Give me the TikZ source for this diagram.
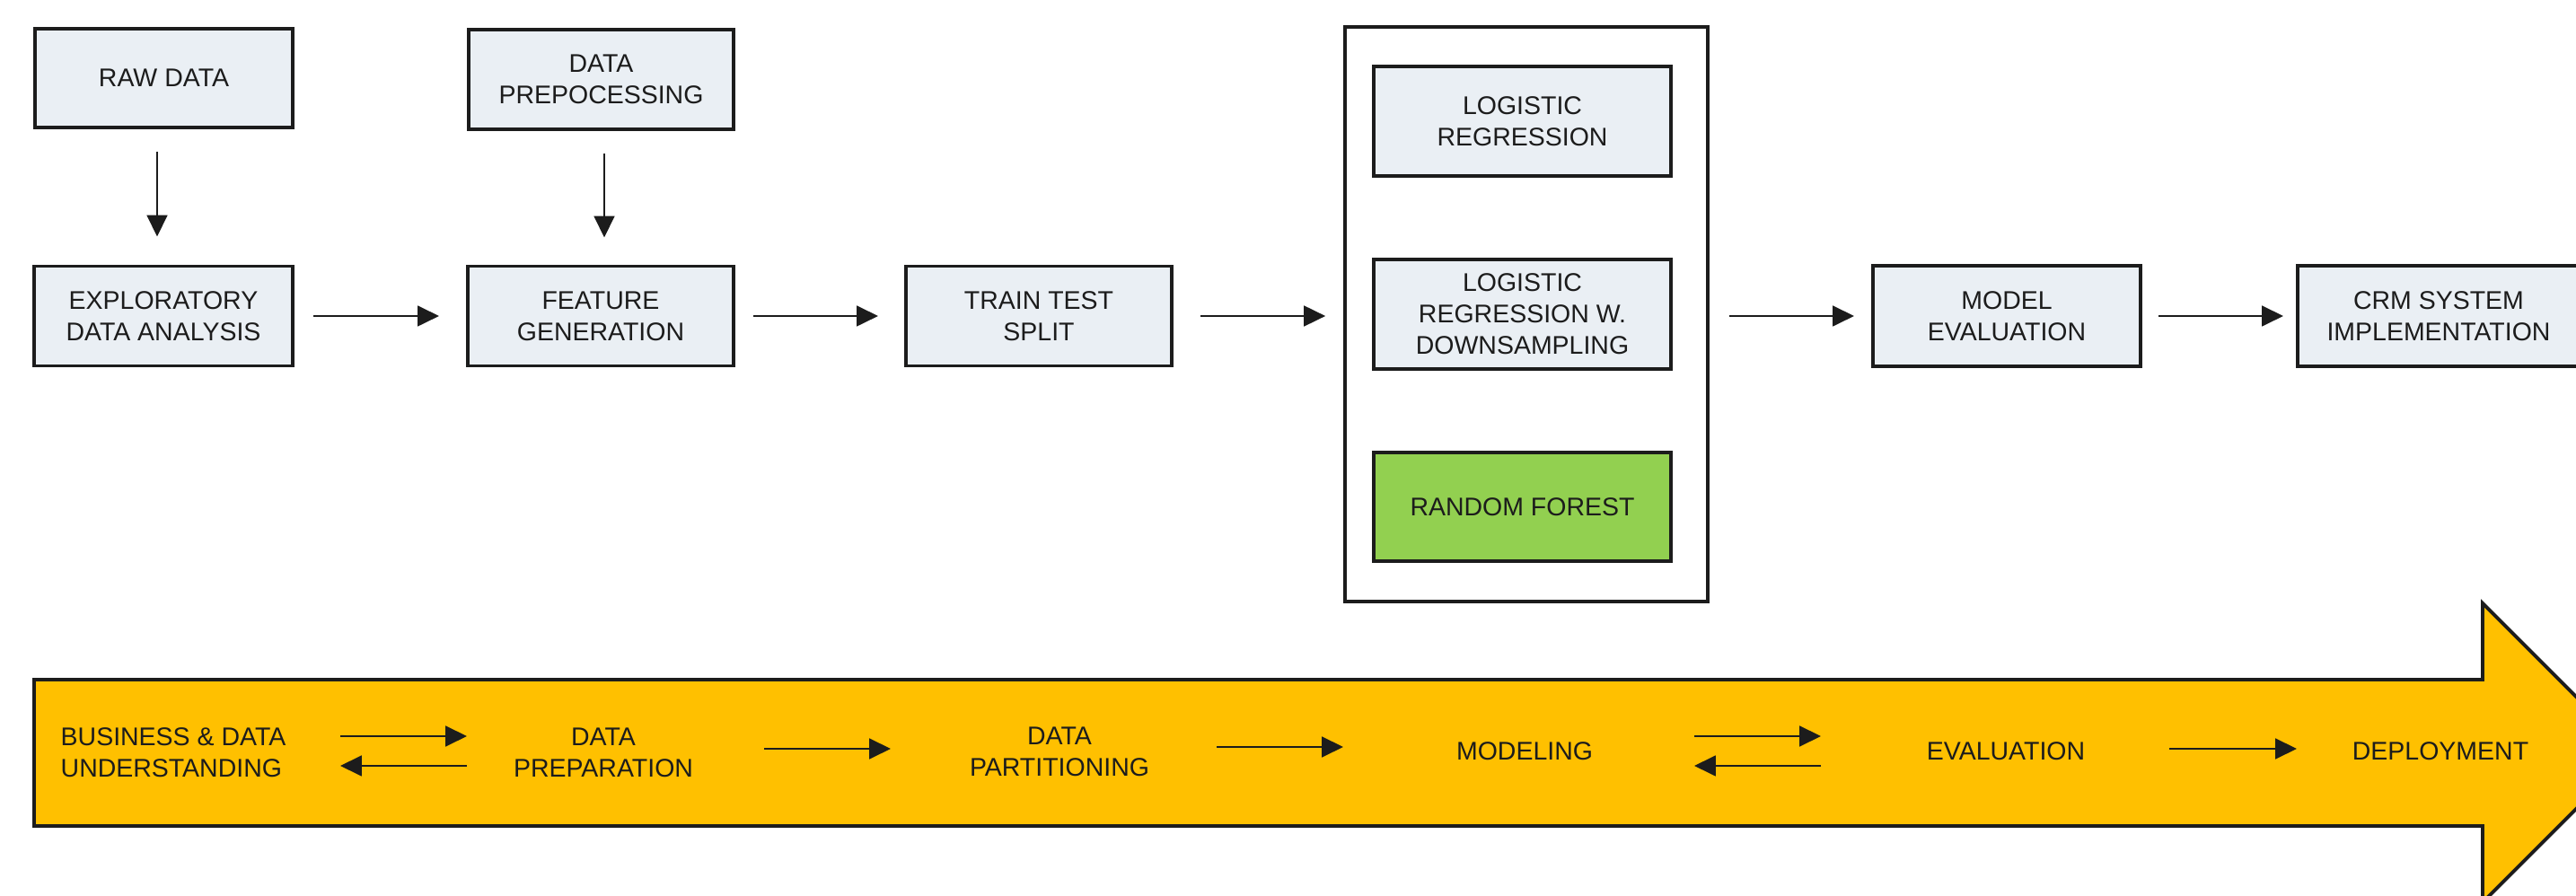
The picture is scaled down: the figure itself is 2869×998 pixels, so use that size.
\documentclass[tikz,border=0pt]{standalone}
\usepackage{fontspec}
\setmainfont{Liberation Sans}
\usetikzlibrary{arrows.meta}
\definecolor{boxfill}{RGB}{234,239,244}
\definecolor{rfgreen}{RGB}{146,208,80}
\definecolor{bandorange}{RGB}{255,192,0}
\definecolor{inkgrey}{RGB}{28,28,28}
\tikzset{
  box/.style={draw=inkgrey, line width=1.1pt, fill=boxfill, align=center, inner sep=0pt},
  greenbox/.style={box, fill=rfgreen},
  groupbox/.style={draw=inkgrey, line width=1pt, fill=white, inner sep=0pt},
  conn/.style={draw=inkgrey, line width=0.6pt, -{Triangle[length=6.8pt,width=6.5pt]}},
  lbl/.style={align=center, inner sep=0pt},
  band/.style={draw=inkgrey, line width=1.1pt, fill=bandorange, line join=miter}
}
\begin{document}
\begin{tikzpicture}[x=0.01cm, y=-0.01cm, font=\fontsize{8.1pt}{10pt}\selectfont, text=inkgrey]
\useasboundingbox (0,0) rectangle (2869,998);
\clip (0,0) rectangle (2869,998);

% top row boxes
\node[box, minimum width=2.87cm, minimum height=1.10cm] (raw)  at (182.5,87)  {RAW DATA};
\node[box, minimum width=2.95cm, minimum height=1.11cm] (prep) at (669.5,88.5) {DATA\\PREPOCESSING};
\node[box, minimum width=2.88cm, minimum height=1.11cm] (eda)  at (182,352)   {EXPLORATORY\\DATA ANALYSIS};
\node[box, minimum width=2.96cm, minimum height=1.11cm] (feat) at (669,352)   {FEATURE\\GENERATION};
\node[box, minimum width=2.96cm, minimum height=1.11cm] (tts)  at (1157,352)  {TRAIN TEST\\SPLIT};

% model group
\node[groupbox, minimum width=4.04cm, minimum height=6.40cm] (grp) at (1700,350) {};
\node[box, minimum width=3.31cm, minimum height=1.22cm] (lr)  at (1695.5,135) {LOGISTIC\\REGRESSION};
\node[box, minimum width=3.31cm, minimum height=1.22cm] (lrw) at (1695.5,350) {LOGISTIC\\REGRESSION W.\\DOWNSAMPLING};
\node[greenbox, minimum width=3.31cm, minimum height=1.21cm] (rf) at (1695.5,564.5) {RANDOM FOREST};

\node[box, minimum width=2.98cm, minimum height=1.12cm] (me)  at (2235,352) {MODEL\\EVALUATION};
\node[box, minimum width=3.14cm, minimum height=1.12cm] (crm) at (2716,352) {CRM SYSTEM\\IMPLEMENTATION};

% top connectors
\draw[conn] ([shift={(-7.5,25)}]raw.south) -- ([shift={(-7,-31)}]eda.north);
\draw[conn] ([shift={(3.5,25)}]prep.south) -- ([shift={(4,-30)}]feat.north);
\draw[conn] ([xshift=0.21cm]eda.east) -- ([xshift=-0.30cm]feat.west);
\draw[conn] ([xshift=0.20cm]feat.east) -- ([xshift=-0.29cm]tts.west);
\draw[conn] ([xshift=0.30cm]tts.east) -- ([shift={(-20,2)}]grp.west);
\draw[conn] ([shift={(22,2)}]grp.east) -- ([xshift=-0.19cm]me.west);
\draw[conn] ([xshift=0.18cm]me.east) -- ([xshift=-0.14cm]crm.west);

% big process arrow
\path[band] (38,757) -- (2765,757) -- (2765,672) -- (2931.5,838.5) -- (2765,1005) -- (2765,920) -- (38,920) -- cycle;

\node[lbl, align=left] (bu)  at (193,838)  {BUSINESS \& DATA\\UNDERSTANDING};
\node[lbl] (dp)  at (672,838)  {DATA\\PREPARATION};
\node[lbl] (dpa) at (1180,837) {DATA\\PARTITIONING};
\node[lbl] (mo)  at (1698,837) {MODELING};
\node[lbl] (ev)  at (2234,837) {EVALUATION};
\node[lbl] (de)  at (2718,837) {DEPLOYMENT};

\draw[conn] ([shift={(186,-18)}]bu.center) -- ([shift={(-152,-18)}]dp.center);
\draw[conn] ([shift={(-152,15)}]dp.center) -- ([shift={(186,15)}]bu.center);
\draw[conn] ([shift={(179,-4)}]dp.center) -- ([shift={(-188,-3)}]dpa.center);
\draw[conn] ([shift={(175,-5)}]dpa.center) -- ([shift={(-202,-5)}]mo.center);
\draw[conn] ([shift={(189,-17)}]mo.center) -- ([shift={(-206,-17)}]ev.center);
\draw[conn] ([shift={(-206,16)}]ev.center) -- ([shift={(189,16)}]mo.center);
\draw[conn] ([shift={(182,-3)}]ev.center) -- ([shift={(-160,-3)}]de.center);
\end{tikzpicture}
\end{document}
